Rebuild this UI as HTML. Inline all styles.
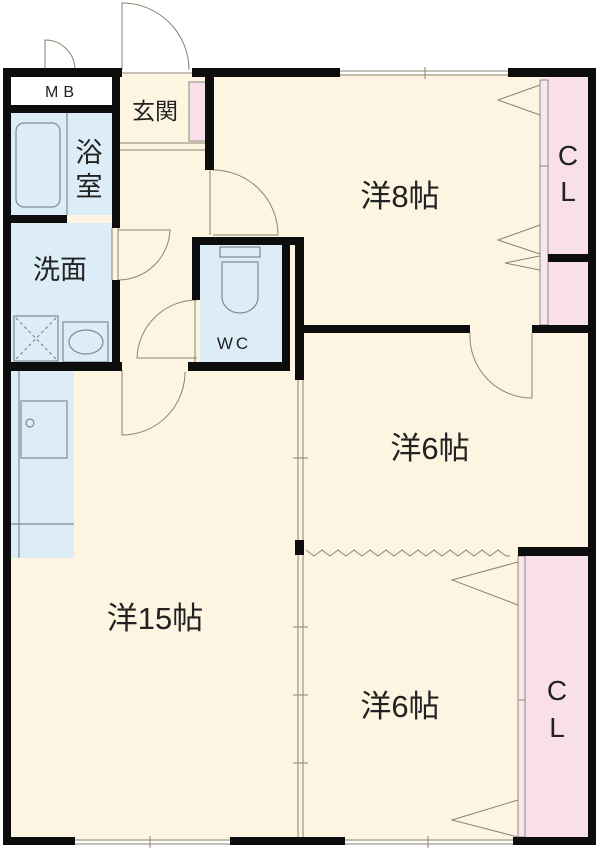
<!DOCTYPE html>
<html><head><meta charset="utf-8"><style>
html,body{margin:0;padding:0;background:#fff;}
svg{display:block;}
text{font-family:"Liberation Sans","Noto Sans CJK JP",sans-serif;fill:#222;}
</style></head><body>
<svg width="600" height="853" viewBox="0 0 600 853" xmlns="http://www.w3.org/2000/svg">
<rect x="8" y="74" width="584" height="767" fill="#fdf5e2"/>
<rect x="11" y="77" width="101" height="28" fill="#fff"/>
<rect x="11" y="113" width="101" height="102" fill="#dcedf8"/>
<rect x="11" y="223" width="101" height="139" fill="#dcedf8"/>
<rect x="200" y="245" width="82" height="117" fill="#dcedf8"/>
<rect x="11" y="370" width="63" height="188" fill="#dcedf8"/>
<rect x="548" y="77" width="40" height="248" fill="#f9dfe9"/>
<rect x="540" y="77" width="8" height="248" fill="#f9e6ee"/>
<rect x="525" y="556" width="63" height="281" fill="#f9dfe9"/>
<rect x="518" y="556" width="7" height="281" fill="#f9e6ee"/>
<rect x="189" y="82" width="18" height="59" fill="#f9dfe9"/>
<g fill="none" stroke="#8a8a7a" stroke-width="1">
<rect x="540" y="80" width="8" height="245"/>
<line x1="540" y1="166" x2="548" y2="166"/>
<rect x="518" y="556" width="7" height="281"/>
<line x1="518" y1="700" x2="525" y2="700"/>
<rect x="189" y="82" width="18" height="59"/>
</g>
<g fill="none" stroke="#7f8a90" stroke-width="1.2">
<rect x="16" y="123" width="44" height="84" rx="8"/>
<line x1="67" y1="113" x2="67" y2="215"/>
<rect x="14" y="316" width="44" height="45"/>
<rect x="63" y="322" width="45" height="40"/>
<ellipse cx="86" cy="342" rx="17" ry="12"/>
<rect x="21" y="401" width="46" height="57"/>
<circle cx="30" cy="423" r="4"/>
<line x1="11" y1="524" x2="74" y2="524"/>
<line x1="19" y1="370" x2="19" y2="558"/>
<rect x="220" y="247" width="40" height="10"/>
<path d="M222 262 h36 v35 a18 16 0 0 1 -36 0 z"/>
</g>
<g stroke="#6a7a80" stroke-width="1" stroke-dasharray="3,3">
<line x1="16" y1="318" x2="56" y2="359"/><line x1="56" y1="318" x2="16" y2="359"/>
</g>
<g fill="none" stroke="#8a8470" stroke-width="1">
<line x1="120" y1="143" x2="207" y2="143"/><line x1="120" y1="150" x2="207" y2="150"/>
<path d="M122 70 V3 A67 67 0 0 1 189 70"/>
<path d="M45 70 V40 A30 30 0 0 1 75 70"/>
<line x1="122" y1="73" x2="192" y2="73"/>
<path d="M210 170 V235 M213 170 A65 65 0 0 1 278 235 H213"/>
<path d="M112 228 V280 M118 228 V280 M118 230 H170 A52 52 0 0 1 118 280"/>
<path d="M195 300 V362 M197 300 A60 60 0 0 0 137 358 H197"/>
<path d="M122 370 V435 A63 63 0 0 0 185 372"/>
<path d="M532 333 V398 A62 62 0 0 1 470 333"/>
<path d="M298 378 V837 M303 378 V837"/>
<path d="M293 458 h15 M293 627 h15 M293 695 h15 M293 763 h15"/>
<path d="M540 85 L498 100 L540 115 M540 225 L498 240 L540 254 M540 256 L505 263 L540 270"/>
<path d="M518 562 L452 580 L518 605 M518 800 L452 820 L518 837"/>
<path d="M306 550 l8 6 l8 -6 l8 6 l8 -6 l8 6 l8 -6 l8 6 l8 -6 l8 6 l8 -6 l8 6 l8 -6 l8 6 l8 -6 l8 6 l8 -6 l8 6 l8 -6 l8 6 l8 -6 l8 6 l8 -6 l8 6 l8 -6 l8 6 l4 0"/>
<path d="M340 71 H508 M340 75 H508 M425 67 V79"/>
<path d="M75 840 H230 M75 844 H230 M150 836 V848 M345 840 H513 M345 844 H513 M428 836 V848"/>
</g>
<g fill="#0d0d0d">
<rect x="3" y="68" width="119" height="9"/>
<rect x="192" y="68" width="148" height="9"/>
<rect x="508" y="68" width="88" height="9"/>
<rect x="3" y="68" width="8" height="777"/>
<rect x="588" y="68" width="8" height="777"/>
<rect x="3" y="837" width="72" height="8"/>
<rect x="230" y="837" width="115" height="8"/>
<rect x="513" y="837" width="83" height="8"/>
<rect x="11" y="105" width="101" height="8"/>
<rect x="112" y="68" width="8" height="160"/>
<rect x="112" y="280" width="8" height="90"/>
<rect x="11" y="215" width="56" height="8"/>
<rect x="3" y="362" width="119" height="9"/>
<rect x="188" y="362" width="102" height="9"/>
<rect x="205" y="68" width="9" height="102"/>
<rect x="192" y="237" width="111" height="8"/>
<rect x="192" y="237" width="8" height="63"/>
<rect x="282" y="237" width="8" height="134"/>
<rect x="295" y="237" width="9" height="143"/>
<rect x="303" y="325" width="167" height="8"/>
<rect x="532" y="325" width="64" height="8"/>
<rect x="548" y="254" width="40" height="8"/>
<rect x="518" y="547" width="78" height="9"/>
<rect x="295" y="540" width="9" height="15"/>
</g>
<text x="62" y="97" font-size="16" text-anchor="middle" letter-spacing="5">MB</text>
<text x="155" y="119" font-size="23" text-anchor="middle">玄関</text>
<text x="89" y="162" font-size="27" text-anchor="middle">浴</text>
<text x="89" y="196" font-size="27" text-anchor="middle">室</text>
<text x="60" y="279" font-size="27" text-anchor="middle">洗面</text>
<text x="234" y="349" font-size="17" text-anchor="middle" letter-spacing="3">WC</text>
<text x="400" y="207" font-size="31" text-anchor="middle">洋8帖</text>
<text x="430" y="459" font-size="31" text-anchor="middle">洋6帖</text>
<text x="155" y="629" font-size="31" text-anchor="middle">洋15帖</text>
<text x="400" y="717" font-size="31" text-anchor="middle">洋6帖</text>
<text x="568" y="165" font-size="28" text-anchor="middle">C</text>
<text x="568" y="201" font-size="28" text-anchor="middle">L</text>
<text x="557" y="700" font-size="28" text-anchor="middle">C</text>
<text x="557" y="737" font-size="28" text-anchor="middle">L</text>
</svg>
</body></html>
